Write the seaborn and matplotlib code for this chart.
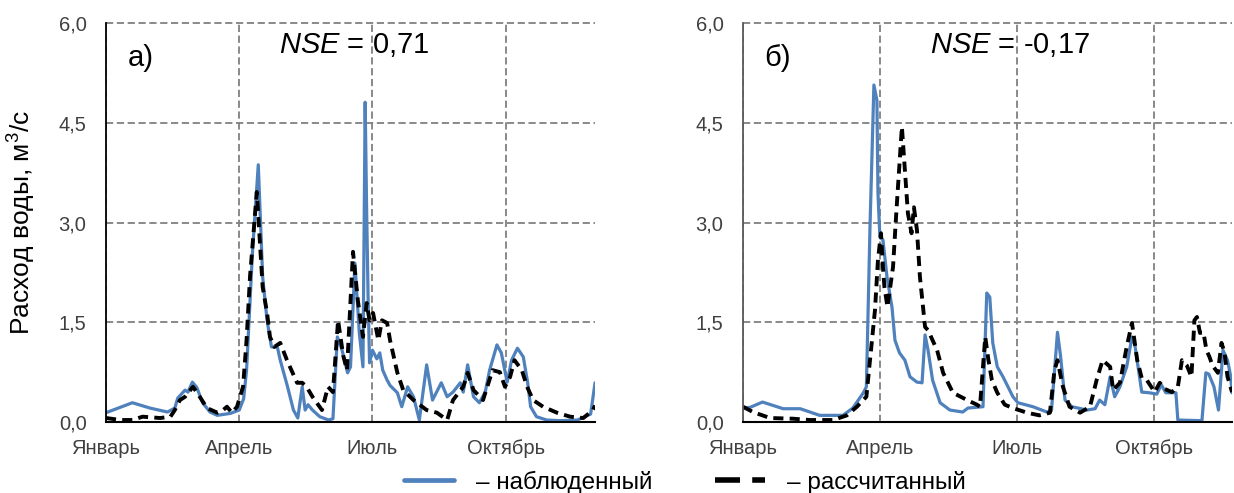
import numpy as np
import pandas as pd
import matplotlib
matplotlib.use("Agg")
import matplotlib.pyplot as plt
from matplotlib.lines import Line2D
import seaborn as sns

# ---- data: day of year and water discharge (m3/s) ----
month_ticks = [0, 91, 182, 273]
month_labels = ["Январь", "Апрель", "Июль", "Октябрь"]
y_ticks = [0.0, 1.5, 3.0, 4.5, 6.0]
y_tick_labels = ["0,0", "1,5", "3,0", "4,5", "6,0"]

# panel а)
a_obs_day = [0, 18, 30, 42, 47, 49, 54, 56, 59, 62, 66, 71, 76, 85, 91, 94, 96, 100, 104,
             107, 110, 113, 117, 119, 124, 128, 131, 134, 136, 138, 141, 146, 152, 155, 158,
             161, 165, 167, 170, 173, 175.5, 177, 178, 179, 180, 182, 185, 187, 189, 192,
             194, 199, 202, 206, 210, 214, 219, 223, 229, 233, 237, 242, 244, 247, 251,
             255, 259, 262, 267, 270, 274, 277, 281, 285, 288, 290, 294, 301, 310, 322,
             329, 331, 334]
a_obs_q = [0.14, 0.29, 0.21, 0.15, 0.21, 0.36, 0.48, 0.45, 0.60, 0.52, 0.29, 0.15, 0.10, 0.13,
           0.18, 0.35, 0.78, 2.54, 3.87, 2.18, 1.53, 1.13, 1.13, 0.93, 0.53, 0.18, 0.06, 0.53,
           0.18, 0.26, 0.18, 0.08, 0.03, 0.05, 1.28, 1.10, 0.74, 0.83, 2.39, 1.34, 0.83, 4.81,
           3.20, 1.88, 0.89, 1.08, 0.95, 1.04, 0.78, 0.63, 0.55, 0.44, 0.23, 0.53, 0.38, 0.03,
           0.86, 0.33, 0.59, 0.38, 0.45, 0.59, 0.45, 0.86, 0.38, 0.29, 0.45, 0.78, 1.16, 1.04,
           0.60, 0.93, 1.11, 0.98, 0.59, 0.23, 0.08, 0.03, 0.02, 0.03, 0.10, 0.12, 0.59]

a_sim_day = [0, 10, 18, 25, 37, 44, 47, 50.5, 54, 59.4, 64, 69, 76, 80, 82.6, 86, 89.5, 91.5,
             93.6, 96, 98.4, 103, 107, 110, 112, 115, 119, 123.6, 130.5, 134, 137, 141, 147.5,
             151.6, 155, 158.5, 162, 164.6, 168.7, 172, 175.5, 178, 180, 182.4, 186, 188.5,
             192, 194, 199, 203, 210, 219, 226, 233, 237, 244, 247, 251, 257.5, 264, 269,
             272.5, 276, 279, 284, 287.6, 291.7, 298.5, 308, 317, 326, 332.6, 334]
a_sim_q = [0.06, 0.03, 0.03, 0.08, 0.06, 0.08, 0.18, 0.33, 0.38, 0.53, 0.38, 0.21, 0.14, 0.18,
           0.23, 0.14, 0.23, 0.38, 0.53, 1.23, 2.20, 3.46, 2.03, 1.64, 1.28, 1.13, 1.19, 0.93,
           0.59, 0.59, 0.53, 0.38, 0.18, 0.53, 0.45, 1.53, 1.00, 0.78, 2.56, 1.83, 1.28, 1.79,
           1.53, 1.64, 1.23, 1.53, 1.49, 1.23, 0.74, 0.48, 0.33, 0.18, 0.14, 0.03, 0.33, 0.53,
           0.74, 0.48, 0.33, 0.78, 0.75, 0.53, 0.68, 0.93, 0.78, 0.53, 0.33, 0.23, 0.14, 0.08,
           0.06, 0.18, 0.25]

# panel б)
b_obs_day = [0, 4.7, 13, 22.6, 26.6, 38, 44.5, 51, 66.4, 73, 80, 82, 84.4, 87, 89, 89.7, 91,
             93, 95.7, 99, 101, 104, 107.6, 111, 115.6, 119, 121, 123, 126, 131, 137.5, 146,
             149.5, 159.5, 162, 164, 166, 169, 172.8, 179.4, 182.7, 192.7, 202, 205, 209, 211,
             214, 218.6, 228.6, 234, 237, 240.5, 244, 247, 250.5, 255, 258.5, 260.5, 265,
             270, 275, 278, 281, 287.7, 289, 305, 307.6, 309.6, 313, 316, 319, 322, 324, 325]
b_obs_q = [0.21, 0.22, 0.30, 0.23, 0.20, 0.20, 0.15, 0.10, 0.10, 0.21, 0.44, 0.53, 2.93, 5.07,
           4.84, 3.44, 2.78, 2.74, 2.18, 1.73, 1.23, 1.04, 0.93, 0.68, 0.60, 0.59, 1.31, 1.08,
           0.63, 0.29, 0.18, 0.15, 0.21, 0.23, 1.94, 1.88, 1.19, 0.83, 0.68, 0.38, 0.29, 0.23,
           0.15, 0.17, 1.35, 1.00, 0.33, 0.23, 0.18, 0.20, 0.33, 0.26, 0.68, 0.38, 0.53, 0.83,
           1.28, 1.15, 0.45, 0.44, 0.42, 0.56, 0.44, 0.44, 0.03, 0.02, 0.74, 0.72, 0.53, 0.18,
           1.08, 0.93, 0.70, 0.44]

b_sim_day = [0, 6.6, 18, 33, 44.5, 60, 69, 75.7, 82, 84.4, 87.7, 89.7, 91.7, 93, 94, 96, 99.7,
             102, 105.6, 107.6, 109.6, 112, 113.6, 115.6, 117.6, 121, 123, 129, 133, 139.5,
             149, 155.5, 157.5, 161, 163, 165.4, 169, 174, 179.4, 188.7, 197, 204, 207, 209,
             212.6, 217, 224, 230.6, 235, 239, 244, 246, 250.5, 255, 258.5, 262, 265, 268.4,
             273.6, 277, 280, 285, 289, 291.7, 295, 298, 300, 301.7, 303.7, 306, 308, 310, 312,
             315.6, 318, 320, 322, 325]
b_sim_q = [0.23, 0.15, 0.06, 0.05, 0.03, 0.03, 0.10, 0.23, 0.38, 0.93, 1.68, 2.44, 2.84, 2.33,
           2.03, 1.73, 2.33, 3.19, 4.44, 3.79, 3.14, 2.84, 3.23, 2.89, 2.18, 1.43, 1.38, 1.08,
           0.74, 0.44, 0.33, 0.26, 0.23, 1.28, 0.95, 0.63, 0.44, 0.26, 0.21, 0.14, 0.10, 0.14,
           0.78, 0.93, 0.53, 0.23, 0.14, 0.23, 0.63, 0.93, 0.83, 0.48, 0.59, 1.13, 1.49, 0.93,
           0.66, 0.63, 0.45, 0.59, 0.50, 0.45, 0.53, 0.93, 0.85, 0.68, 1.53, 1.58, 1.34, 1.35,
           1.08, 0.98, 0.85, 0.74, 1.19, 1.05, 0.68, 0.45]

series_names = ["наблюденный", "рассчитанный"]
nse_values = ["0,71", "-0,17"]
panel_letters = ["а)", "б)"]
x_limits = [334, 325]

# ---- styling ----
sns.set_theme(style="white")
plt.rcParams["font.family"] = ["Liberation Sans", "DejaVu Sans"]
plt.rcParams["mathtext.fontset"] = "custom"
plt.rcParams["mathtext.rm"] = "Liberation Sans"
plt.rcParams["mathtext.it"] = "Liberation Sans:italic"

BLUE = "#4F81BD"
palette = {series_names[0]: BLUE, series_names[1]: "black"}
dashes = {series_names[0]: "", series_names[1]: (2.6, 1.6)}
sizes = {series_names[0]: 2.3, series_names[1]: 2.8}


def long_frame(obs_day, obs_q, sim_day, sim_q):
    obs = pd.DataFrame({"day": obs_day, "q": obs_q, "series": series_names[0]})
    sim = pd.DataFrame({"day": sim_day, "q": sim_q, "series": series_names[1]})
    return pd.concat([obs, sim], ignore_index=True)


frames = [long_frame(a_obs_day, a_obs_q, a_sim_day, a_sim_q),
          long_frame(b_obs_day, b_obs_q, b_sim_day, b_sim_q)]

fig = plt.figure(figsize=(12.34, 4.93), dpi=100)
ax_a = fig.add_axes([0.0859, 0.144, 0.3963, 0.809])
ax_b = fig.add_axes([0.6021, 0.144, 0.3963, 0.809])

grid_kw = dict(color="#808080", linestyle=(0, (4, 2)), linewidth=1.3)
letter_x = [0.072, 0.07]
nse_x = [0.507, 0.546]

for i, (ax, df) in enumerate(zip([ax_a, ax_b], frames)):
    ax.set_axisbelow(True)
    sns.lineplot(data=df, x="day", y="q", hue="series", style="series", size="series",
                 palette=palette, dashes=dashes, sizes=sizes, hue_order=series_names,
                 estimator=None, sort=False, legend=False, ax=ax)
    for ln in ax.get_lines():
        ln.set_solid_capstyle("round")
        ln.set_dash_capstyle("butt")

    ax.set_xlim(0, x_limits[i])
    ax.set_ylim(0, 6.0)
    ax.set_xticks(month_ticks)
    ax.set_xticklabels(month_labels)
    ax.set_yticks(y_ticks)
    ax.set_yticklabels(y_tick_labels)
    ax.tick_params(axis="x", length=0, pad=12, labelsize=14.5)
    ax.tick_params(axis="y", length=0, pad=14, labelsize=14.5)
    for lbl in ax.get_xticklabels() + ax.get_yticklabels():
        lbl.set_color("#404040")

    ax.grid(True, axis="both", **grid_kw)
    for gl in ax.get_ygridlines():
        gl.set_clip_on(False)

    for side in ["top", "right"]:
        ax.spines[side].set_visible(False)
    ax.spines["bottom"].set_color("black")
    ax.spines["bottom"].set_linewidth(1.5)
    ax.spines["left"].set_color("black" if i == 0 else "#595959")
    ax.spines["left"].set_linewidth(1.3)

    ax.set_xlabel("")
    ax.set_ylabel("")

    ax.text(letter_x[i], 0.912, panel_letters[i], transform=ax.transAxes,
            fontsize=21, ha="center", va="center", color="black")
    ax.text(nse_x[i], 0.945, r"$\it{NSE}$ = " + nse_values[i],
            transform=ax.transAxes, fontsize=21, ha="center", va="center", color="black")

ax_a.set_ylabel("Расход воды, м$^3$/с", fontsize=19, color="black")
ax_a.yaxis.set_label_coords(-0.139, 0.5)

handles = [Line2D([], [], color=BLUE, linewidth=3.4),
           Line2D([], [], color="black", linewidth=4.0, linestyle=(0, (4.5, 2.2)))]
fig.legend(handles, ["– " + s for s in series_names], loc="center",
           bbox_to_anchor=(0.555, 0.022), ncol=2, frameon=False, fontsize=17.5,
           handlelength=2.05, handletextpad=0.9, columnspacing=2.6, labelcolor="black")

fig.savefig("out.png", dpi=100)
